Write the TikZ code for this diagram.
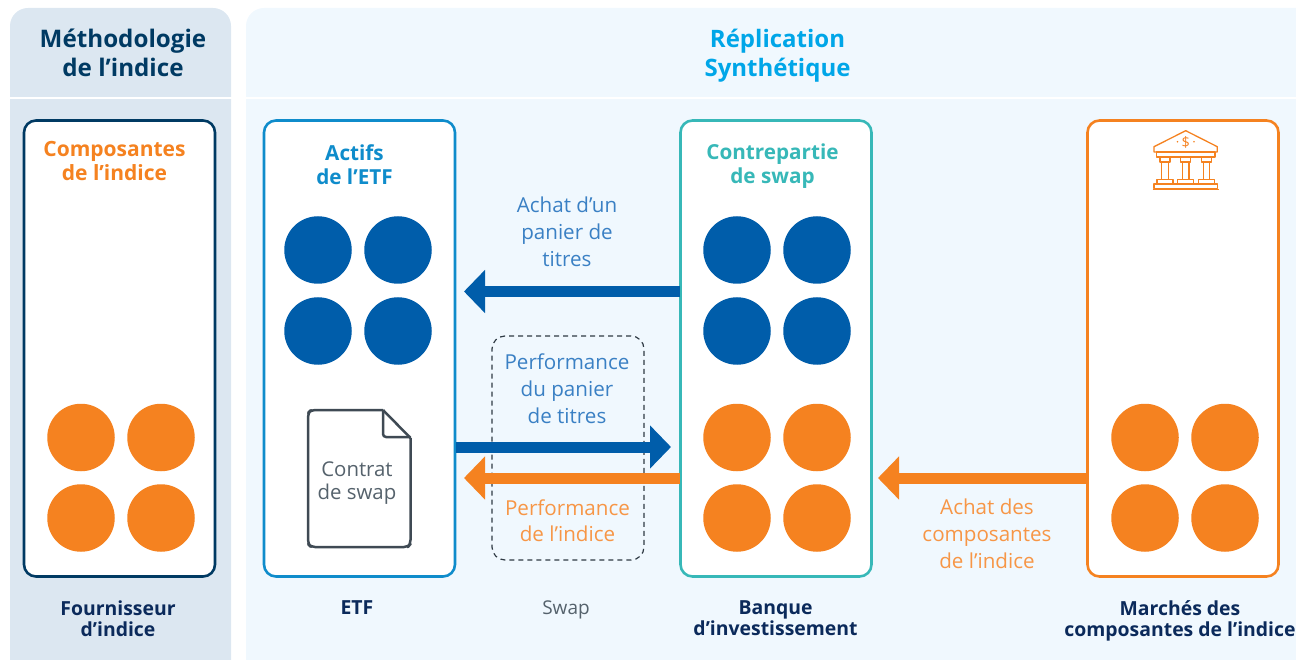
\documentclass[tikz,border=0pt]{standalone}
\usepackage{fontspec}
\setmainfont{Open Sans}
\usetikzlibrary{arrows.meta,positioning,calc}
\definecolor{navy}{HTML}{003A63}
\definecolor{dnavy}{HTML}{0B2A5B}
\definecolor{panelA}{HTML}{DCE7F1}
\definecolor{panelB}{HTML}{F0F8FE}
\definecolor{cblue}{HTML}{005DAA}
\definecolor{lblue}{HTML}{3A80C4}
\definecolor{etfblue}{HTML}{0F8CCB}
\definecolor{sky}{HTML}{00A6E8}
\definecolor{teal}{HTML}{37B8B8}
\definecolor{orng}{HTML}{F58220}
\definecolor{lorng}{HTML}{F79646}
\definecolor{docc}{HTML}{3F4A54}
\definecolor{dashc}{HTML}{2F3A44}
\definecolor{gtxt}{HTML}{55626C}
\tikzset{
  x=1pt,y=-1pt,
  colbox/.style={draw=#1,line width=2.6pt,fill=white,rounded corners=12pt,minimum width=191pt,minimum height=456pt,inner sep=0pt},
  dot/.style={circle,fill=#1,minimum size=67.5pt,inner sep=0pt},
  label/.style={align=center,font=\fontsize{20.6}{27}\selectfont,text=#1,inner sep=0pt},
  heading/.style={align=center,font=\fontsize{21}{24}\selectfont\bfseries,text=#1,inner sep=0pt},
  foot/.style={align=center,font=\fontsize{19.4}{21}\selectfont\bfseries,text=dnavy,inner sep=0pt},
  thick arrow/.style={draw=#1,line width=11pt,-{Triangle[length=21pt,width=42pt]}},
  icon/.style={draw=orng,line width=1.3pt,fill=none,line join=round},
}
\begin{document}
\begin{tikzpicture}
\useasboundingbox (0,0) rectangle (1296,660);
% panels
\begin{scope}
\clip (0,0) rectangle (1296,660);
\fill[panelA,rounded corners=18pt] (10,8) rectangle (231,680);
\fill[panelB,rounded corners=18pt] (246,8) rectangle (1340,680);
\fill[white] (0,97) rectangle (1296,99.5);
\end{scope}
% headings
\node[heading=navy,font=\fontsize{24.2}{29}\selectfont\bfseries] (h1) at (123,53) {Méthodologie\\de l’indice};
\node[heading=sky,font=\fontsize{24}{29}\selectfont\bfseries] (h2) at (777.5,56) {Réplication\\Synthétique};
% boxes
\node[colbox=navy] (bidx) at (119.5,348.5) {};
\node[colbox=etfblue] (betf) at (359.5,348.5) {};
\node[colbox=teal] (bcp) at (776,348.5) {};
\node[colbox=orng] (bmk) at (1183,348.5) {};
% box titles
\node[heading=orng] (t1) at (114.5,161.5) {Composantes\\de l’indice};
\node[heading=etfblue,font=\fontsize{20.7}{24}\selectfont\bfseries] (t2) at (354.5,164.5) {Actifs\\de l’ETF};
\node[heading=teal,font=\fontsize{20.7}{24}\selectfont\bfseries] (t3) at (772.5,166.5) {Contrepartie\\de swap};
% dots
\foreach \n/\x/\y in {a/81/437.5,b/161/437.5,c/81/518,d/161/518}
  \node[dot=orng] (i\n) at (\x,\y) {};
\foreach \n/\x/\y in {a/318/250,b/398/250,c/318/331,d/398/331}
  \node[dot=cblue] (e\n) at (\x,\y) {};
\foreach \n/\x/\y in {a/737/250,b/817/250,c/737/331,d/817/331}
  \node[dot=cblue] (p\n) at (\x,\y) {};
\foreach \n/\x/\y in {a/737/437.5,b/817/437.5,c/737/518,d/817/518}
  \node[dot=orng] (q\n) at (\x,\y) {};
\foreach \n/\x/\y in {a/1145/437.5,b/1225/437.5,c/1145/518,d/1225/518}
  \node[dot=orng] (m\n) at (\x,\y) {};
% dashed swap box
\node[draw=dashc,dashed,dash pattern=on 5pt off 4pt,line width=1.2pt,rounded corners=13pt,minimum width=152pt,minimum height=224pt,inner sep=0pt] (swapbox) at (568,448) {};
% arrows
\coordinate (a1s) at (680,291.5); \coordinate (a1e) at (464,291.5);
\coordinate (a2s) at (456,447); \coordinate (a2e) at (671,447);
\coordinate (a3s) at (680,478); \coordinate (a3e) at (464,478);
\coordinate (a4s) at (1087,478); \coordinate (a4e) at (878,478);
\draw[thick arrow=cblue] (a1s) -- (a1e);
\draw[thick arrow=cblue] (a2s) -- (a2e);
\draw[thick arrow=orng] (a3s) -- (a3e);
\draw[thick arrow=orng] (a4s) -- (a4e);
% labels
\node[label=lblue] (l1) at (567,232) {Achat d’un\\panier de\\titres};
\node[label=lblue] (l2) at (567,389) {Performance\\du panier\\de titres};
\node[label=lorng,font=\fontsize{20.6}{26}\selectfont] (l3) at (567.5,521) {Performance\\de l’indice};
\node[label=lorng] (l4) at (987,534) {Achat des\\composantes\\de l’indice};
% document
\draw[docc,line width=2.5pt,line join=round,rounded corners=4pt,fill=white]
  (383,410) -- (311,410) -- (308,413) -- (308,544) -- (311,547) -- (408,547) -- (410.5,544) -- (410.5,438);
\draw[docc,line width=2.5pt,line join=round] (383,410) -- (410.5,438);
\draw[docc,line width=2.5pt,line join=round,rounded corners=3pt] (383,410) -- (383,437) -- (410.5,437);
\node[align=center,font=\fontsize{20.4}{22.5}\selectfont,text=gtxt,inner sep=0pt] (doc) at (357,483) {Contrat\\de swap};
% bank icon
\begin{scope}[icon]
\draw (1185.7,130.7) -- (1154,146.7) -- (1154,152) -- (1217.3,152) -- (1217.3,146.7) -- cycle;
\draw (1156.5,152) rectangle (1215,157);
\foreach \cx in {1165,1185.7,1206.5}{
  \draw (\cx-5,157.5) rectangle (\cx+5,162);
  \draw (\cx-3.3,162) rectangle (\cx+3.3,179.5);
  \draw (\cx-8,179.5) rectangle (\cx+8,184);
}
\draw (1154,184) rectangle (1217.5,188.5);
\draw (1152.5,189.5) -- (1219,189.5);
\fill[orng] (1177.5,141.8) circle (0.9);
\fill[orng] (1194,141.8) circle (0.9);
\end{scope}
\node[text=orng,font=\fontsize{14.5}{14.5}\selectfont,inner sep=0pt] (dollar) at (1185.7,142) {\$};
% footers
\node[foot] (f1) at (118,618.5) {Fournisseur\\d’indice};
\node[foot] (f2) at (357,608) {ETF};
\node[label=gtxt,font=\fontsize{19}{21}\selectfont] (f3) at (566,609.5) {Swap};
\node[foot] (f4) at (775.5,618.5) {Banque\\d’investissement};
\node[foot] (f5) at (1180,621) {Marchés des\\composantes de l’indice};
\end{tikzpicture}
\end{document}
